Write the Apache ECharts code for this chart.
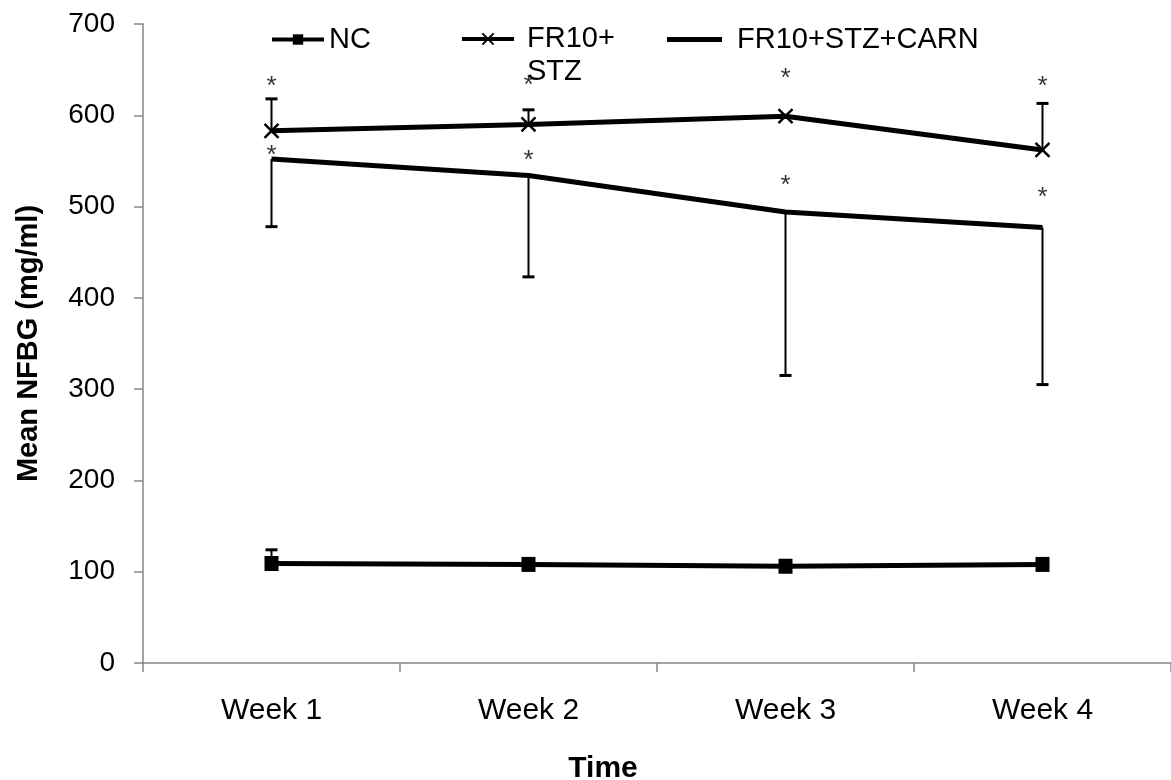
<!DOCTYPE html>
<html>
<head>
<meta charset="utf-8">
<script src="https://cdn.jsdelivr.net/npm/echarts@6/dist/echarts.min.js"></script>
<style>
  html, body { margin: 0; padding: 0; background: #fff; }
  #chart { width: 1171px; height: 780px; }
</style>
</head>
<body>
<div id="chart"></div>
<script>
// Time points
const weeks = ['Week 1', 'Week 2', 'Week 3', 'Week 4'];
// Mean NFBG per group (mg/ml)
const ncMean = [109, 108, 106, 108];
const stzMean = [583, 590, 599, 562];
const carnMean = [552, 534, 494, 477];
// Error bar lengths (NC and FR10+STZ drawn upward, FR10+STZ+CARN drawn downward)
const ncErr = [15, 4, 3, 3];
const stzErr = [35, 16, 0, 51];
const carnErr = [74, 111, 179, 172];
// Heights of the significance asterisks
const stzStar = [637, 638, 645, 637];
const carnStar = [561, 556, 528, 515];
// Y axis range and step
const yMin = 0, yMax = 700, yStep = 100;

const FONT = 'Liberation Sans, Arial, sans-serif';
const LH = 33; // legend line height

function errorSeries(means, errs, dir, name) {
  return {
    type: 'custom',
    name: name,
    silent: true,
    z: 1,
    data: means.map((m, i) => [i, m, m + dir * errs[i]]),
    renderItem: function (params, api) {
      const i = api.value(0);
      if (api.value(1) === api.value(2)) return null;
      const p0 = api.coord([i, api.value(1)]);
      const p1 = api.coord([i, api.value(2)]);
      const hw = 6;
      return {
        type: 'group',
        children: [
          { type: 'line', shape: { x1: p0[0], y1: p0[1], x2: p1[0], y2: p1[1] }, style: { stroke: '#000', lineWidth: 2 } },
          { type: 'line', shape: { x1: p1[0] - hw, y1: p1[1], x2: p1[0] + hw, y2: p1[1] }, style: { stroke: '#000', lineWidth: 3 } }
        ]
      };
    }
  };
}

function starSeries(vals) {
  return {
    type: 'scatter',
    silent: true,
    symbolSize: 1,
    itemStyle: { color: 'rgba(0,0,0,0)' },
    data: vals.map((v, i) => [i, v]),
    label: {
      show: true,
      position: 'inside',
      offset: [0, 5],
      formatter: '*',
      fontFamily: FONT,
      fontSize: 26,
      color: '#000'
    },
    z: 5
  };
}

function legendText(padLeft) {
  return { fontFamily: FONT, fontSize: 29, color: '#000', lineHeight: LH, padding: [0, 0, 0, padLeft] };
}

const chart = echarts.init(document.getElementById('chart'), null, { renderer: 'canvas' });
chart.setOption({
  animation: false,
  backgroundColor: '#fff',
  grid: { left: 143, right: 0, top: 24, bottom: 117, containLabel: false },
  legend: [
    { data: ['NC'], left: 270, top: 23, padding: 0, itemWidth: 52, itemHeight: 13,
      lineStyle: { width: 4 }, textStyle: legendText(0) },
    // the label wraps onto a second line below the marker row
    { data: ['FR10+STZ'], left: 460, top: 39 - LH * 1.5, padding: 0, itemWidth: 52, itemHeight: 14,
      lineStyle: { width: 4 }, textStyle: legendText(8),
      formatter: function () { return ' \nFR10+\nSTZ'; } },
    { data: [{ name: 'FR10+STZ+CARN', icon: 'rect' }], left: 667, top: 23, padding: 0, itemWidth: 55, itemHeight: 5,
      textStyle: legendText(10) }
  ],
  graphic: [
    {
      type: 'text',
      x: 603,
      y: 769,
      style: { text: 'Time', fontFamily: FONT, fontWeight: 'bold', fontSize: 30, fill: '#000', align: 'center', verticalAlign: 'middle' }
    }
  ],
  xAxis: {
    type: 'category',
    data: weeks,
    boundaryGap: true,
    axisLine: { lineStyle: { color: '#868686', width: 1.5 } },
    axisTick: { show: true, length: 9, lineStyle: { color: '#868686', width: 1.5 } },
    axisLabel: { fontFamily: FONT, fontSize: 30, color: '#000', margin: 33 }
  },
  yAxis: {
    type: 'value',
    min: yMin,
    max: yMax,
    interval: yStep,
    name: 'Mean NFBG (mg/ml)',
    nameLocation: 'middle',
    nameGap: 100,
    nameTextStyle: { fontFamily: FONT, fontWeight: 'bold', fontSize: 29, color: '#000' },
    axisLine: { show: true, lineStyle: { color: '#868686', width: 1.5 } },
    axisTick: { show: true, length: 9, lineStyle: { color: '#868686', width: 1.5 } },
    splitLine: { show: false },
    axisLabel: { fontFamily: FONT, fontSize: 28, color: '#000', margin: 28 }
  },
  series: [
    errorSeries(ncMean, ncErr, 1, 'ncErr'),
    errorSeries(stzMean, stzErr, 1, 'stzErr'),
    errorSeries(carnMean, carnErr, -1, 'carnErr'),
    {
      name: 'NC',
      type: 'line',
      data: ncMean,
      symbol: 'rect',
      symbolSize: [14, 15],
      lineStyle: { color: '#000', width: 5 },
      itemStyle: { color: '#000' },
      z: 3
    },
    {
      name: 'FR10+STZ',
      type: 'line',
      data: stzMean,
      symbol: 'path://M0,0L10,10M10,0L0,10',
      symbolSize: 14,
      lineStyle: { color: '#000', width: 5 },
      itemStyle: { color: 'rgba(0,0,0,0)', borderColor: '#000', borderWidth: 2.5 },
      z: 3
    },
    {
      name: 'FR10+STZ+CARN',
      type: 'line',
      data: carnMean,
      symbol: 'none',
      lineStyle: { color: '#000', width: 5 },
      itemStyle: { color: '#000' },
      z: 3
    },
    starSeries(stzStar),
    starSeries(carnStar)
  ]
});
</script>
</body>
</html>
